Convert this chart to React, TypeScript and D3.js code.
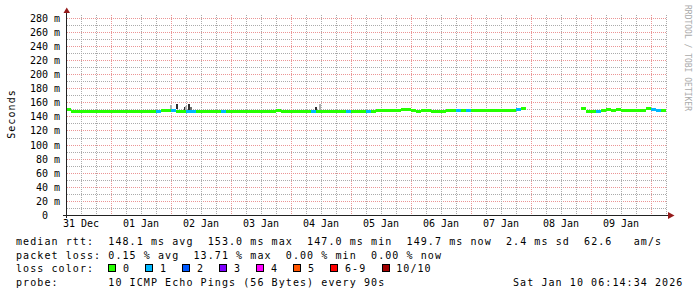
import React from 'react';
import * as d3 from 'd3';

const WIDTH = 697;
const HEIGHT = 297;

// time window of the graph (10 days)
const startTime = new Date(2025, 11, 31, 6, 0, 0);
const endTime = new Date(2026, 0, 10, 6, 0, 0);
const BIN_HOURS = 2;

const dayLabels = ['31 Dec', '01 Jan', '02 Jan', '03 Jan', '04 Jan', '05 Jan', '06 Jan', '07 Jan', '08 Jan', '09 Jan'];
const yTickValues = [0, 20, 40, 60, 80, 100, 120, 140, 160, 180, 200, 220, 240, 260, 280];
const yMinorValues = [10, 30, 50, 70, 90, 110, 130, 150, 170, 190, 210, 230, 250, 270];

// median RTT (ms), one value per 2 h, one row per 24 h starting 31 Dec 06:00
const medianRtt: (number | null)[] = [
  150, 148, 148, 148, 148, 148, 148, 148, 148, 148, 148, 148,
  148, 148, 148, 148, 147, 147, 147, 148.5, 148.5, 149.5, 147, 147,
  147.5, 147, 147.5, 147.5, 147.5, 147.5, 147.5, 147.5, 147.5, 147.5, 147.5, 147.5,
  147.5, 147.5, 147.5, 147.5, 147.5, 147.5, 149, 147.5, 147.5, 147.5, 147.5, 147.5,
  147.5, 148, 147.5, 147.5, 147.5, 147.5, 147.5, 147.5, 147.5, 147.5, 147.5, 147.5,
  147.5, 147.5, 149, 149.5, 149, 148.5, 149.5, 150, 150, 148.5, 148, 149,
  148.5, 148, 148, 147.5, 148.5, 148.5, 149, 149.5, 148.5, 149, 149, 149.5,
  149, 149.5, 149, 149.5, 149.5, 148.5, 150, 152, null, null, null, null,
  null, null, null, null, null, null, null, 151.5, 147.5, 147.5, 148, 148.5,
  150.5, 149.5, 150, 149.5, 149.5, 148.5, 149.5, 149, 152.5, 150.5, 148.5, 148.5,
];

// lost pings out of 10, same bins
const lossCount: number[] = [
  0, 0, 0, 0, 0, 0, 0, 0, 0, 0, 0, 0,
  0, 0, 0, 0, 0, 0, 1, 0, 0, 1, 0, 0,
  1, 1, 0, 0, 0, 0, 0, 1, 0, 0, 0, 0,
  0, 0, 0, 0, 0, 0, 0, 0, 0, 0, 0, 0,
  0, 1, 0, 0, 0, 0, 0, 0, 1, 0, 0, 0,
  1, 0, 0, 0, 0, 0, 0, 0, 0, 0, 0, 0,
  0, 0, 0, 0, 0, 0, 1, 0, 1, 0, 0, 0,
  0, 0, 0, 0, 0, 0, 1, 0, 0, 0, 0, 0,
  0, 0, 0, 0, 0, 0, 0, 0, 0, 0, 1, 0,
  0, 0, 0, 0, 0, 0, 0, 0, 0, 1, 1, 0,
];

// smoke spikes: hours after start, highest ping (ms), density 1..3
const smokeHours = [41.4, 43.8, 47.0, 47.8, 48.6, 49.6, 99.6, 101.0, 172.4, 206.2, 233.0];
const smokeTop = [156, 157.6, 154, 154.5, 157.6, 153, 153, 157.6, 151, 152.5, 154];
const smokeDensity = [1, 3, 3, 1, 3, 2, 3, 1, 3, 3, 3];

const lossLabels = ['0', '1', '2', '3', '4', '5', '6-9', '10/10'];
const lossColors = ['#26ff00', '#00b8ff', '#0059ff', '#7e00ff', '#ff00ff', '#ff5500', '#ff0000', '#a10000'];
const smokeColors = ['#b0b0b0', '#6e6e6e', '#2e2e2e'];

const rttAvg = '148.1', rttMax = '153.0', rttMin = '147.0', rttNow = '149.7', rttSd = '2.4', rttAmps = '62.6';
const lossAvg = '0.15', lossMax = '13.71', lossMin = '0.00', lossNow = '0.00';
const probeText = '10 ICMP Echo Pings (56 Bytes) every 90s';
const stampText = 'Sat Jan 10 06:14:34 2026';

const MONO = '"DejaVu Sans Mono", monospace';
const ADV = 7.1; // legend character pitch

function lossIndex(n: number) {
  if (n <= 5) return n;
  if (n < 10) return 6;
  return 7;
}

export default function App() {
  const x = d3.scaleTime().domain([startTime, endTime]).range([66, 666]);
  const y = d3.scaleLinear().domain([0, 284]).range([215, 15]);
  const hourDate = (h: number) => new Date(+startTime + h * 3600e3);

  const gridTimes = d3.timeHour.every(6)!.range(startTime, hourDate(241));
  const px = (v: number) => Math.round(v) + 0.5;

  const bins = medianRtt.map((v, i) => ({
    v,
    loss: lossCount[i],
    t0: hourDate(i * BIN_HOURS),
    t1: hourDate((i + 1) * BIN_HOURS),
  }));

  const bandTop = (v: number) => Math.round(y(v)) - 1;

  const legendText = [
    `median rtt:  ${rttAvg} ms avg  ${rttMax} ms max  ${rttMin} ms min  ${rttNow} ms now  ${rttSd} ms sd  ${rttAmps}   am/s`,
    `packet loss: ${lossAvg} % avg  ${lossMax} % max  ${lossMin} % min  ${lossNow} % now`,
    `loss color:`,
    `probe:       ${probeText}`,
  ];
  const legendY = [245, 258.7, 272, 286];

  let boxX = 16 + 13 * ADV;
  const boxes = lossLabels.map((lab, i) => {
    const bx = boxX;
    boxX += 37 + (lab.length - 1) * ADV;
    return { lab, bx, color: lossColors[i] };
  });

  return (
    <svg
      width={WIDTH}
      height={HEIGHT}
      style={{ position: 'absolute', left: 0, top: 0, background: '#fff' }}
      fontFamily={MONO}
    >
      <rect x={0} y={0} width={WIDTH} height={HEIGHT} fill="#fff" />
      {/* horizontal grid */}
      {yMinorValues.map((v) => (
        <line key={'hm' + v} x1={67} x2={667} y1={px(y(v))} y2={px(y(v))} stroke="#ababab" strokeDasharray="1,1" />
      ))}
      {yTickValues.filter((v) => v > 0).map((v) => (
        <line key={'hM' + v} x1={67} x2={667} y1={px(y(v))} y2={px(y(v))} stroke="#eb9595" strokeDasharray="1,1" />
      ))}
      {/* vertical grid */}
      {gridTimes.map((t) => {
        const major = t.getHours() === 0;
        const xx = px(x(t));
        if (xx < 67) return null;
        return (
          <line key={'v' + +t} x1={xx} x2={xx} y1={15} y2={215} stroke={major ? '#eb9595' : '#ababab'} strokeDasharray="1,1" />
        );
      })}

      {/* smoke */}
      {smokeHours.map((h, i) => {
        const bi = Math.floor(h / BIN_HOURS);
        const med = medianRtt[bi] ?? smokeTop[i];
        const top = Math.round(y(smokeTop[i]));
        return (
          <rect
            key={'s' + i}
            x={Math.round(x(hourDate(h)))}
            width={2}
            y={top}
            height={Math.max(1, bandTop(med) - top)}
            fill={smokeColors[smokeDensity[i] - 1]}
          />
        );
      })}

      {/* median band coloured by loss */}
      {bins.map((b, i) =>
        b.v == null ? null : (
          <rect
            key={'b' + i}
            x={x(b.t0)}
            width={x(b.t1) - x(b.t0) + 0.05}
            y={bandTop(b.v)}
            height={3}
            fill={lossColors[lossIndex(b.loss)]}
            shapeRendering="crispEdges"
          />
        )
      )}

      {/* axes */}
      <line x1={63} x2={668} y1={215.5} y2={215.5} stroke="#222" />
      <line x1={66.5} x2={66.5} y1={218} y2={12} stroke="#222" />
      <polygon points="63.5,13 70,13 66.75,7.5" fill="#951b1b" />
      <polygon points="668,212 668,219 674.5,215.5" fill="#951b1b" />

      {/* y tick labels */}
      {yTickValues.map((v) => (
        <text
          key={'yl' + v}
          x={60}
          y={px(y(v)) + 3.3}
          fontSize={10}
          textAnchor="end"
          style={{ whiteSpace: 'pre' }}
          fill="#000"
        >
          {v === 0 ? '0  ' : `${v} m`}
        </text>
      ))}

      {/* x labels at noon */}
      {dayLabels.map((lab, i) => (
        <text key={'xl' + i} x={x(hourDate(6 + 24 * i))} y={227} fontSize={10} textAnchor="middle" fill="#000">
          {lab}
        </text>
      ))}

      {/* y title */}
      <text
        transform="translate(15,114) rotate(-90)"
        fontSize={10}
        textAnchor="middle"
        style={{ letterSpacing: '1.08px' }}
        fill="#000"
      >
        Seconds
      </text>

      {/* watermark */}
      <text transform="translate(685,5) rotate(90)" fontSize={8} fill="#aaaaaa">
        RRDTOOL / TOBI OETIKER
      </text>

      {/* legend */}
      {legendText.map((s, i) => (
        <text
          key={'lg' + i}
          x={16}
          y={legendY[i]}
          fontSize={10}
          style={{ whiteSpace: 'pre', letterSpacing: '1.08px' }}
          fill="#000"
        >
          {s}
        </text>
      ))}
      {boxes.map((b) => (
        <g key={'bx' + b.lab}>
          <rect x={Math.round(b.bx) + 0.5} y={264.5} width={7} height={7} fill={b.color} stroke="#000" />
          <text x={b.bx + 14.7} y={272} fontSize={10} style={{ whiteSpace: 'pre', letterSpacing: '1.08px' }} fill="#000">
            {b.lab}
          </text>
        </g>
      ))}
      <text x={16 + 70 * ADV} y={286} fontSize={10} style={{ whiteSpace: 'pre', letterSpacing: '1.08px' }} fill="#000">
        {stampText}
      </text>
    </svg>
  );
}
